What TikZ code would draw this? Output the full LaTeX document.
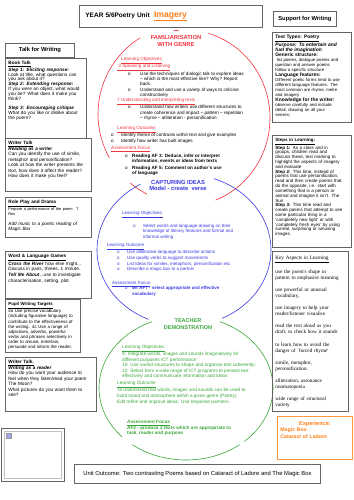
\documentclass[tikz,border=0pt]{standalone}
\usepackage{fontspec}
\setmainfont{Liberation Sans}
\newfontfamily\keyfont{Liberation Serif}
\usetikzlibrary{positioning}
\definecolor{famred}{RGB}{240,50,60}
\definecolor{capblue}{RGB}{55,55,225}
\definecolor{demgreen}{RGB}{55,165,55}
\definecolor{orng}{RGB}{255,125,20}
\definecolor{boxgray}{RGB}{100,100,100}
\newcommand{\bulo}[1][12pt]{\makebox[#1][l]{o}}

\begin{document}
\begin{tikzpicture}[x=1pt, y=-1pt,
  box/.style={draw=boxgray, line width=0.8pt, anchor=north west, align=left, inner xsep=3pt, inner ysep=2.5pt, text height=3.9pt},
  hdr/.style={draw=boxgray, line width=0.8pt, anchor=north west, inner sep=0pt, font=\bfseries\fontsize{5.8}{7}\selectfont},
  txt/.style={anchor=north west, inner sep=0pt, align=left},
  ttl/.style={align=center, inner sep=0pt, font=\bfseries\fontsize{5.8}{6.6}\selectfont},
  ring/.style={line width=0.6pt}
]
\useasboundingbox (0,0) rectangle (353,500);

% the three rings
\draw[ring, famred] plot[domain=-74:69, samples=50] ({185+85*cos(\x)},{118+88*sin(\x)});
\draw[ring, famred] plot[domain=262:266, samples=4] ({185+85*cos(\x)},{118+88*sin(\x)});
\draw[ring, famred] plot[domain=238:151, samples=30] ({188+90*cos(\x)},{114+90*sin(\x)});
\draw[ring, famred] plot[domain=117:130, samples=8] ({188+90*cos(\x)},{114+90*sin(\x)});
\draw[ring, capblue] plot[domain=-70:64, samples=50] ({184+87*cos(\x)},{250+76*sin(\x)});
\draw[ring, capblue] plot[domain=240:114, samples=50] ({184+87*cos(\x)},{250+76*sin(\x)});
\draw[ring, demgreen] plot[domain=247:137, samples=40] ({186+87*cos(\x)},{388+72*sin(\x)});
\draw[ring, demgreen] plot[domain=128:52, samples=30] ({186+87*cos(\x)},{388+72*sin(\x)});
\draw[ring, demgreen] plot[domain=48:-67, samples=40] ({186+87*cos(\x)},{388+72*sin(\x)});

% headers
\node[hdr, minimum width=183pt, minimum height=22pt, text width=171pt, align=left, font=\bfseries\fontsize{6.5}{8}\selectfont] (title) at (79,5)
  {YEAR 5/6Poetry Unit\ \ {\fontsize{8.6}{9}\selectfont\color{orng}\underline{Imagery}}};
\node[hdr, minimum width=63pt, minimum height=15pt] (support) at (273,11) {Support for Writing};
\node[hdr, minimum width=69pt, minimum height=14pt] (tfw) at (5,43) {Talk for Writing};

% left column
\node[box, below right=0pt and 0pt of tfw.south west, text width=75pt, text depth=71.1pt, font=\fontsize{4.7}{4.95}\selectfont] (booktalk)
  {\textbf{\underline{Book Talk}}\\
   \textbf{\textit{Step 1: Eliciting response:}}\\
   Look at title, what questions can\\
   you ask about it?\\
   \textbf{\textit{Step 2: Extending response:}}\\
   If you were an object, what would\\
   you be? What does it make you\\
   think?\\[3.7pt]
   \textbf{\textit{Step 3: Encouraging critique}}\\
   What do you like or dislike about\\
   the poem?};
\node[box, text width=80pt, text depth=44.1pt, font=\fontsize{4.7}{5.5}\selectfont] (writertalk) at (5,138)
  {\textbf{\underline{Writer Talk}}\\
   \textbf{\textit{Reading as a writer}}\\
   Can you identify the use of simile,\\
   metaphor and personification?\\
   Look at how the writer presents the\\
   text, how does it affect the reader?\\
   How does it make you feel?};
\node[box, text width=80pt, text depth=31.1pt, font=\fontsize{4.7}{5}\selectfont] (roleplay) at (5,197)
  {\textbf{\underline{Role Play and Drama}}\par
   {\fontsize{3.9}{4.4}\selectfont Prepare a performance of the poem. T\\Rex\par}
   \vspace{5.3pt}
   {\itshape Add music to a poetic reading of\\Magic Box\par}};
\node[box, text width=80pt, text depth=38.1pt, font=\fontsize{4.7}{5.6}\selectfont] (wordgames) at (5,251)
  {\textbf{\underline{Word \& Language Games}}\\
   \textbf{\textit{Cross the River}} how else might...\\
   Discuss in pairs, threes, 1 minute.\\
   \textbf{\textit{Tell Me About}}...use to investigate\\
   characterisation, setting, plot.};
\node[box, text width=69pt, text depth=44.1pt, font=\fontsize{4.4}{5.05}\selectfont] (targets) at (5,299)
  {\textbf{\underline{Pupil Writing Targets}}\\
   4a Use precise vocabulary\\
   (including figurative language) to\\
   contribute to the effectiveness of\\
   the writing. 4c Use a range of\\
   adjectives, adverbs, powerful\\
   verbs and phrases selectively in\\
   order to amuse, entertain,\\
   persuade and inform the reader.};
\node[box, text width=85pt, text depth=45.1pt, font=\fontsize{4.7}{5.5}\selectfont] (writertalk2) at (5,357)
  {\textbf{\underline{Writer Talk.}}\\
   \textbf{\textit{Writing as a reader}}\\
   How do you want your audience to\\
   feel when they listen/read your poem\\
   The Moon?\\
   What pictures do you want them to\\
   see?};
\node[draw=boxgray, line width=0.8pt, anchor=north west, minimum width=63pt, minimum height=53pt] (imgbox) at (1,428) {};
\node[draw=black!25, line width=0.5pt, minimum width=57pt, minimum height=47pt] (imgframe) at (imgbox.center) {};
\node[draw=black!40, fill=capblue!45, inner sep=0pt, minimum size=5pt, below right=1.5pt and 1.5pt of imgframe.north west] (imgicon) {};

% bottom
\node[draw=boxgray, line width=0.8pt, anchor=north west, minimum width=246pt, minimum height=19pt, font=\fontsize{5.85}{7}\selectfont] (outcome) at (74,464)
  {Unit Outcome: Two contrasting Poems based on Cataract of Ladore and The Magic Box};

% right column
\node[box, text width=73pt, text depth=81.1pt, font=\fontsize{4.3}{5}\selectfont] (texttypes) at (272,32)
  {{\fontsize{4.9}{5}\selectfont\textbf{\underline{Text Types: Poetry}}}\\
   {\fontsize{4.9}{5}\selectfont\textbf{\textit{Purpose: To entertain and}}}\\
   {\fontsize{4.9}{5}\selectfont\textbf{\textit{fuel the imagination}}}\\
   {\fontsize{4.9}{5}\selectfont\textbf{Generic structure:}}\\
   \ list poems, dialogue poems and\\
   question and answer poems\\
   follow a specific structure\\
   {\fontsize{4.9}{5}\selectfont\textbf{Language features:}}\\
   Different poetic forms tend to use\\
   different language features. The\\
   most common are rhyme, metre\\
   and imagery\\
   {\fontsize{4.9}{5}\selectfont\textbf{Knowledge for the writer:}}\\
   observe carefully and include\\
   detail, drawing on all your\\
   senses;};
\node[box, text width=73pt, text depth=103.1pt, font=\fontsize{4.5}{4.82}\selectfont] (steps) at (272,135)
  {\textbf{\underline{Steps in Learning:}}\\
   \textbf{Step 1:} As a class and in\\
   groups, children read and\\
   discuss these, text marking to\\
   highlight the aspects of imagery\\
   and evaluate\\
   \textbf{Step 2:} This time, instead of\\
   poems that use personification,\\
   read and then create poems that\\
   do the opposite, i.e. start with\\
   something that is a person or\\
   animal and imagine it isn't. The\\
   Sun\\
   \textbf{Step 3:} This time read and\\
   create poems that attempt to see\\
   some particular thing in a\\
   `completely new light' or with\\
   `completely fresh eyes' by using\\
   surreal, surprising or amusing\\
   images.};
\node[box, text width=70pt, text height=5.5pt, text depth=149.5pt, font=\keyfont\fontsize{5.2}{6.07}\selectfont] (keyasp) at (272,251)
  {\underline{Key Aspects in Learning}\\[6.07pt]
   use the poem's shape or\\
   pattern to emphasise meaning\\[6.07pt]
   use powerful or unusual\\
   vocabulary,\\[6.07pt]
   use imagery to help your\\
   reader/listener visualise\\[6.07pt]
   read the text aloud as you\\
   draft, to check how it sounds\\[6.07pt]
   to learn how to avoid the\\
   danger of `forced rhyme'\\[6.07pt]
   simile, metaphor,\\
   personification.\\[6.07pt]
   alliteration, assonance\\
   onomatopoeia\\[6.07pt]
   wide range of structural\\
   variety};
\node[box, draw=orng!80, text=orng, text width=69pt, text height=6.1pt, text depth=31.9pt, font=\bfseries\fontsize{5.2}{6.7}\selectfont] (experience) at (277,416)
  {\makebox[\linewidth][c]{\fontsize{5.6}{6.7}\selectfont Experience:}\\
   Magic Box\\
   Cataract of Ladore};

% familiarisation
\node[ttl, text=famred] (famttl) at (176,41) {FAMILIARISATION\\WITH GENRE};
\node[txt, font=\fontsize{4.6}{5.3}\selectfont] (famlo) at (117,57)
  {\hspace*{4pt}{\color{famred}\underline{Learning Objectives}}\\
   {\color{famred}\underline{\ 3 Speaking and Listening}}\\
   \hspace*{11pt}\bulo Use the techniques of dialogic talk to explore ideas\\
   \hspace*{23pt}-- which is the most effective line? Why? Report\\
   \hspace*{23pt}back.\\
   \hspace*{11pt}\bulo Understand and use a variety of ways to criticise\\
   \hspace*{23pt}constructively\\
   {\color{famred}\underline{7 Understanding and interpreting texts}}\\
   \hspace*{11pt}\bulo Understand how writers use different structures to\\
   \hspace*{23pt}create coherence and impact -- pattern -- repetition\\
   \hspace*{23pt}-- rhyme -- alliteration - personification};
\node[txt, font=\fontsize{4.6}{5.3}\selectfont] (famout) at (111,126)
  {\hspace*{6pt}{\color{famred}\underline{Learning Outcome:}}\\
   \bulo[10pt]Identify theme of contrasts within text and give examples\\
   \bulo[10pt]Identify how writer has built images};
\node[txt, font=\fontsize{4.6}{5.3}\selectfont] (famaf) at (111,146)
  {{\color{famred}\underline{Assessment Focus}}\\[1.7pt]
   \hspace*{14pt}\bulo[7pt]\textbf{Reading AF 3: Deduce, infer or interpret}\\
   \hspace*{21pt}\textbf{information, events or ideas from texts}\\[1pt]
   \hspace*{14pt}\bulo[7pt]\textbf{Reading AF 5: Comment on author's use}\\
   \hspace*{21pt}\textbf{of language}};

% capturing ideas
\node[ttl, text=capblue] (capttl) at (178,185.5) {CAPTURING IDEAS\\Model - create\ \ verse};
\node[txt, text=capblue, font=\fontsize{4.5}{5.6}\selectfont] (caplo) at (122,211)
  {\underline{Learning Objectives:}\\[5.6pt]
   \hspace*{11pt}\bulo[10pt]Select words and language drawing on their\\
   \hspace*{21pt}knowledge of literary features and formal and\\
   \hspace*{21pt}informal writing};
\node[txt, text=capblue, font=\fontsize{4.5}{5.75}\selectfont] (capout) at (107,243)
  {\underline{Learning Outcome}\\
   \hspace*{10pt}\bulo[10pt]Use alliterative language to describe actions\\
   \hspace*{10pt}\bulo[10pt]Use quality verbs to suggest movements\\
   \hspace*{10pt}\bulo[10pt]List ideas for similes, metaphors, personification etc\\
   \hspace*{10pt}\bulo[10pt]Describe a magic box to a partner};
\node[txt, text=capblue, font=\fontsize{4.5}{5.5}\selectfont] (capaf) at (112,281)
  {\underline{Assessment Focus}\\
   \hspace*{13pt}\bulo[7pt]\textbf{Wr AF7 - select appropriate and effective}\\
   \hspace*{20pt}\textbf{vocabulary}};

% teacher demonstration
\node[ttl, text=demgreen, font=\bfseries\fontsize{5.5}{7}\selectfont] (demttl) at (188,324.5) {TEACHER\\DEMONSTRATION};
\node[txt, text=demgreen, font=\fontsize{4.7}{5.45}\selectfont] (demlo) at (122,345)
  {\underline{Learning Objectives:}\\
   9: Integrate words, images and sounds imaginatively for\\
   different purposes ICT performance\\
   10: Use varied structures to shape and organise text coherently:\\
   12: Select from a wide range of ICT programs to present text\\
   effectively and communicate information and ideas};
\node[txt, text=demgreen, font=\fontsize{4.7}{6}\selectfont] (demout) at (117,381)
  {\underline{Learning Outcome}\\
   To understand that words, images and sounds can be used to\\
   build mood and atmosphere within a given genre (Poetry)\\
   Edit refine and improve ideas. Use response partners.};
\node[txt, text=demgreen, font=\bfseries\fontsize{4.7}{5.1}\selectfont] (demaf) at (127,420)
  {\underline{Assessment Focus}\\
   AF2 - produce 2 texts which are appropriate to\\
   task, reader and purpose};
\end{tikzpicture}
\end{document}
